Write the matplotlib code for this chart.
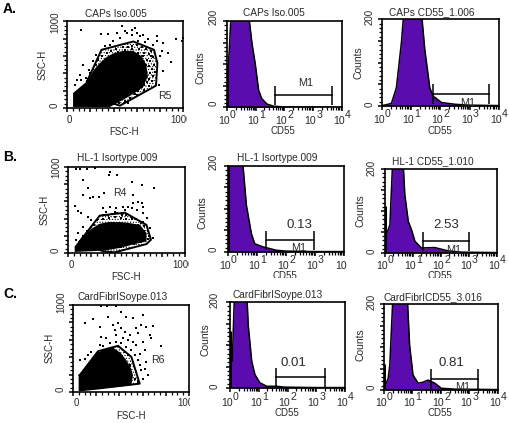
"""Flow cytometry panels: FSC/SSC dot plots with CD55 histograms."""
import matplotlib
matplotlib.use('Agg')
import matplotlib.pyplot as plt
from matplotlib.ticker import MultipleLocator, LogLocator, NullFormatter
from matplotlib.transforms import Bbox

plt.rcParams['font.family'] = ['Liberation Sans', 'DejaVu Sans']
plt.rcParams['hatch.linewidth'] = 0.5

W, H = 510, 423
PURPLE = '#5a0cae'
TEXT = '#2a2a2a'

# dot plot A
gate_a = [(172, 308), (296, 673), (569, 769), (747, 673), (776, 519), (764, 258), (454, 27), (402, 50)]
core_a = [(52, 12), (52, 173), (120, 250), (172, 308), (230, 440), (282, 520), (340, 590), (397, 630), (480, 660),
          (569, 660), (640, 600), (680, 500), (695, 365), (660, 270), (626, 212), (540, 140), (483, 96), (368, 12)]
dots_a_x = [124, 468, 583, 937, 986, 994, 296, 354, 425, 511, 555, 627, 698, 770, 828, 819, 871, 891, 799, 770,
            741, 670, 612, 454, 397, 368, 325, 138, 109, 86, 66, 124, 161, 190, 224, 253, 828, 793, 555, 497,
            598, 655, 700, 720, 690, 740, 715, 745, 700, 730, 755, 710, 740, 700, 730, 690, 660, 700, 640, 610,
            660, 580, 540, 600, 500, 520, 450, 480, 520, 560, 600, 640, 420, 380, 340, 300, 270, 250, 220, 200,
            180, 620, 660, 680, 650, 610, 560, 500, 440, 680, 660, 720]
dots_a_y = [896, 950, 923, 796, 769, 808, 854, 854, 865, 865, 846, 827, 796, 769, 750, 654, 635, 527, 596, 827,
            731, 758, 769, 808, 769, 731, 712, 500, 385, 327, 269, 327, 346, 442, 538, 615, 423, 269, 904, 885,
            865, 846, 620, 600, 560, 590, 540, 500, 480, 450, 420, 410, 370, 340, 310, 300, 270, 250, 240, 200,
            210, 160, 120, 150, 80, 60, 60, 700, 710, 720, 730, 700, 680, 660, 640, 600, 560, 500, 450, 400,
            330, 680, 640, 680, 600, 640, 680, 670, 650, 500, 430, 660]

# dot plot B
gate_b = [(100, 135), (271, 435), (486, 469), (671, 327), (709, 154), (671, 104), (400, 8), (300, 19)]
core_b = [(57, 12), (57, 77), (114, 173), (186, 269), (271, 340), (350, 360), (443, 360), (540, 345), (614, 327),
          (671, 231), (671, 135), (560, 100), (443, 58), (300, 27)]
dots_b_x = [71, 100, 163, 229, 129, 171, 349, 357, 420, 543, 629, 734, 129, 186, 214, 266, 309, 557, 557, 514,
            600, 629, 643, 57, 86, 109, 171, 200, 129, 86, 66, 300, 357, 414, 471, 543, 586, 643, 671, 643,
            700, 729, 329, 400, 486, 300, 340, 380, 420, 460, 500, 540, 580, 620, 650, 680, 690, 680, 300, 350,
            400, 450, 500, 550, 600, 650, 640, 250, 220, 200, 160, 130, 620, 560, 500, 450]
dots_b_y = [981, 973, 981, 992, 846, 761, 904, 942, 911, 827, 796, 761, 673, 635, 654, 654, 700, 673, 577, 538,
            596, 577, 538, 546, 492, 469, 423, 385, 308, 231, 154, 519, 538, 519, 538, 519, 500, 462, 404, 365,
            288, 173, 481, 481, 500, 440, 440, 450, 460, 440, 440, 420, 400, 350, 310, 260, 200, 160, 400, 410,
            420, 410, 400, 390, 330, 250, 190, 380, 330, 300, 250, 200, 130, 110, 90, 70]

# dot plot C
gate_c = [(57, 192), (216, 469), (388, 531), (503, 404), (575, 96), (201, 38), (57, 19)]
core_c = [(57, 15), (57, 192), (130, 330), (201, 442), (270, 490), (345, 510), (410, 450), (460, 365), (500, 270),
          (517, 192), (503, 77), (230, 38)]
dots_c_x = [172, 101, 230, 302, 417, 460, 517, 604, 690, 589, 345, 388, 546, 560, 632, 661, 675, 762, 244, 287,
            359, 417, 445, 489, 374, 431, 474, 517, 604, 546, 618, 575, 632, 589, 618, 647, 57, 101, 129, 158,
            230, 259, 316, 374, 417, 460, 503, 532, 560, 575, 604, 517, 546, 532, 560, 489, 503, 474, 445, 244,
            290, 370]
dots_c_y = [835, 788, 750, 865, 923, 865, 846, 885, 761, 769, 769, 788, 731, 673, 750, 654, 615, 527, 635, 615,
            711, 731, 692, 654, 654, 615, 596, 577, 577, 538, 481, 442, 346, 250, 269, 192, 365, 385, 423, 462,
            538, 527, 558, 577, 558, 519, 481, 423, 365, 308, 154, 346, 231, 154, 115, 308, 231, 423, 462, 992,
            990, 992]

# histograms: CD55 value, counts (anything above 200 runs off the axis)
caps_iso_x = [1, 1.2, 1.5, 4.7, 7.4, 9.6, 12.6, 16, 24.5, 42, 71, 100, 1000, 10000]
caps_iso_y = [60, 132, 260, 260, 148, 101, 40, 21, 8, 3, 2, 1, 1, 0]
caps_cd55_x = [1, 1.4, 2.1, 3.1, 4.6, 6.3, 19.5, 29, 43, 56, 108, 310, 890, 10000]
caps_cd55_y = [1, 3, 6, 42, 146, 260, 260, 131, 42, 23, 8, 4, 2, 1]
hl_iso_x = [1, 3.3, 4.3, 6.4, 8.4, 16, 47, 104, 1000, 10000]
hl_iso_y = [260, 200, 109, 43, 19, 12, 4, 2, 1, 1]
hl_cd55_x = [1, 1.5, 2, 4.1, 5.1, 6.8, 8.9, 11.7, 20, 60, 180, 540, 10000]
hl_cd55_y = [35, 67, 260, 260, 139, 75, 55, 28, 12, 13, 5, 2, 1]
fib_iso_x = [1, 1.2, 1.5, 3.6, 4.3, 5.7, 7.4, 11, 19, 42, 81, 1000, 10000]
fib_iso_y = [60, 62, 260, 260, 147, 62, 31, 12, 4, 4, 2, 1, 1]
fib_cd55_x = [1, 1.4, 1.6, 2.2, 6.1, 7.9, 10.4, 15.6, 23, 35, 60, 103, 300, 10000]
fib_cd55_y = [3, 27, 58, 260, 260, 105, 35, 16, 18, 23, 16, 4, 2, 1]

fig = plt.figure(figsize=(W / 100, H / 100), dpi=100)


def put(x, y, s, size=7.3, rotation=0, ha='center', color=TEXT, weight='normal', clip=None):
    """text at image pixel position; clip = (right px, bottom px) cuts it off like the source image"""
    t = fig.text(x / W, 1 - y / H, s, fontsize=size, rotation=rotation, ha=ha, va='center',
                 color=color, fontweight=weight)
    if clip:
        t.set_clip_box(Bbox([[0, H - clip[1]], [clip[0], H]]))
        t.set_clip_on(True)
    return t


def make_axes(box):
    x0, y0, x1, y1 = box
    ax = fig.add_axes([x0 / W, 1 - y1 / H, (x1 - x0) / W, (y1 - y0) / H])
    for s in ax.spines.values():
        s.set_linewidth(1.2)
    ax.tick_params(which='both', direction='out', color='black', labelbottom=False, labelleft=False)
    ax.tick_params(which='major', length=3, width=1.1)
    ax.tick_params(which='minor', length=2, width=0.9)
    return ax


def dot_plot(box, title, title_xy, core, gate, xs, ys, region, region_xy, xlab_xy, ylab_xy, ytick_x, y_labs, x0_xy, x1000):
    ax = make_axes(box)
    ax.set_xlim(0, 1000)
    ax.set_ylim(0, 1000)
    ax.xaxis.set_major_locator(MultipleLocator(200))
    ax.xaxis.set_minor_locator(MultipleLocator(50))
    ax.yaxis.set_major_locator(MultipleLocator(200))
    ax.yaxis.set_minor_locator(MultipleLocator(50))
    # stipple between the solid core and the gate
    ax.fill(*zip(*gate), facecolor='none', edgecolor='black', hatch='......', lw=0)
    ax.fill(*zip(*core), color='black', lw=0)
    ax.scatter(xs, ys, s=1.2, c='black', marker='s', linewidths=0)
    ax.plot(*zip(*(gate + gate[:1])), color='black', lw=1.4)
    put(*title_xy, title)
    put(*region_xy, region, size=7.6)
    put(*xlab_xy, 'FSC-H', size=7)
    put(*ylab_xy, 'SSC-H', rotation=90, size=7)
    put(ytick_x, y_labs[0], '0', rotation=90, size=7)
    put(ytick_x, y_labs[1], '1000', rotation=90, size=7)
    put(*x0_xy, '0', size=7)
    put(x1000[0], x0_xy[1], '1000', ha='left', clip=(x1000[1], H), size=7)


def histogram(box, title, title_xy, xs, ys, spike, bar, value, value_xy, m1_xy, count_xy, ytick_x, y_labs, tick_y,
              cd55_xy, last_exp=True, clip=None):
    ax = make_axes(box)
    ax.set_xscale('log')
    ax.set_xlim(1, 10000)
    ax.set_ylim(0, 200)
    ax.xaxis.set_major_locator(LogLocator(base=10, numticks=6))
    ax.xaxis.set_minor_locator(LogLocator(base=10, subs=range(2, 10), numticks=6))
    ax.xaxis.set_minor_formatter(NullFormatter())
    ax.yaxis.set_major_locator(MultipleLocator(50))
    ax.yaxis.set_minor_locator(MultipleLocator(10))
    ax.fill_between(xs, 0, ys, color=PURPLE, lw=0)
    ax.plot(xs, ys, color='black', lw=1.1)
    if spike:
        ax.vlines(1.04, 0, spike, color='black', lw=2.2)
    # M1 marker
    ax.plot([bar[0], bar[1]], [bar[2], bar[2]], color='black', lw=1.1)
    ax.vlines(bar[:2], bar[3], bar[4], color='black', lw=1.1)

    put(*title_xy, title)
    put(*count_xy, 'Counts', rotation=90, size=7.5)
    put(ytick_x, y_labs[0], '200', rotation=90, size=7)
    put(ytick_x, y_labs[1], '0', rotation=90, size=7)
    put(*cd55_xy, 'CD55', clip=clip, size=7)
    if value:
        put(*value_xy, value, size=9.5)
    if m1_xy:
        put(*m1_xy, 'M1', size=7.8)
    # tick labels are set by hand: exponent is nearly as big as the base
    decade = (box[2] - box[0]) / 4
    for d in range(5):
        tx = box[0] + d * decade
        put(tx - 3, tick_y, '10', size=7.6)
        if d < 4 or last_exp:
            put(tx + 6, tick_y - 6, str(d), size=7.6)


# row A
dot_plot((67, 21.5, 183.5, 108), 'CAPs Iso.005', (116, 14), core_a, gate_a, dots_a_x, dots_a_y, 'R5', (165, 96),
         (124, 132), (43, 65), 55, (105, 22), (69, 120), (170, 186.5))
histogram((227, 21, 342, 107.5), 'CAPs Iso.005', (274, 13), caps_iso_x, caps_iso_y, 100,
          (48, 4600, 28, 5, 49), None, None, (306, 83), (201, 68), 214, (17, 103), 121, (283, 131))
histogram((382, 19.5, 499, 106), 'CAPs CD55_1.006', (432, 12), caps_cd55_x, caps_cd55_y, 0,
          (54, 4700, 28, 5, 51), None, None, (468, 103), (359, 63), 370, (17, 104), 120, (440, 131))

# row B
dot_plot((68, 167, 185, 253), 'HL-1 Isortype.009', (117, 158), core_b, gate_b, dots_b_x, dots_b_y, 'R4', (120, 193),
         (126, 277), (45, 210), 56, (250, 167), (71, 265), (172, 189))
histogram((228, 166, 344, 252), 'HL-1 Isortype.009', (277, 158), hl_iso_x, hl_iso_y, 200,
          (21, 930, 27, 4, 48), '0.13', (299, 225), (299, 248), (203, 213), 214, (162, 249), 266, (285, 276),
          last_exp=False, clip=(W, 278))
histogram((385, 169, 497, 253), 'HL-1 CD55_1.010', (433, 161), hl_cd55_x, hl_cd55_y, 112,
          (22, 980, 28, 5, 51), '2.53', (446, 225), (454, 250), (361, 211), 372, (168, 251), 266, (440, 276),
          clip=(W, 278))

# row C
dot_plot((73, 305, 189, 392), 'CardFibrISoype.013', (123, 297), core_c, gate_c, dots_c_x, dots_c_y, 'R6', (158, 360),
         (131, 416), (50, 348), 61, (389, 302), (76, 403), (177, 190))
histogram((230, 302, 345, 388), 'CardFibrISoype.013', (278, 295), fib_iso_x, fib_iso_y, 132,
          (40, 1950, 25, 2, 47), '0.01', (293, 363), None, (206, 340), 215, (300, 386), 403, (287, 413))
histogram((384, 304, 498, 390), 'CardFibrICD55_3.016', (433, 297), fib_cd55_x, fib_cd55_y, 60,
          (43, 2000, 26, 3, 48), '0.81', (451, 363), (463, 387), (361, 345), 372, (302, 387), 403, (440, 413))

put(3, 9, 'A.', size=10, ha='left', color='black', weight='bold')
put(3, 157, 'B.', size=10, ha='left', color='black', weight='bold')
put(3, 294, 'C.', size=10, ha='left', color='black', weight='bold')

fig.savefig('out.png', dpi=100)
